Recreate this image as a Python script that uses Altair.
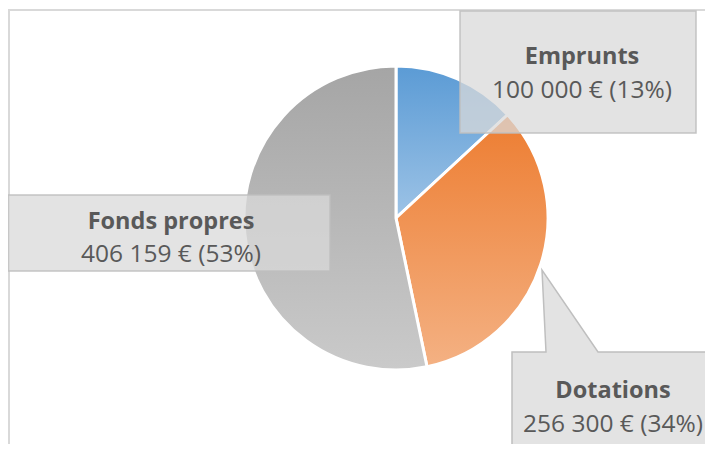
import altair as alt
import pandas as pd

# ---- data ----
categories = ["Emprunts", "Dotations", "Fonds propres"]
values = [100000, 256300, 406159]
order_idx = [0, 1, 2]

total = sum(values)
def fmt(v):
    return f"{v:,}".replace(",", " ") + " €"
value_labels = [f"{fmt(v)} ({round(100 * v / total)}%)" for v in values]

# ---- layout (pixels, view coordinates) ----
W, H = 697, 436
pie_cx, pie_cy, pie_r = 388, 210, 152
text_cx = [574, 605, 163]
name_base = [56, 390, 221]
val_base = [90, 424, 254]

# gradient fills (top dark -> bottom light), like the reference
g_blue = {"gradient": "linear", "x1": 0, "y1": 0, "x2": 0, "y2": 1,
          "stops": [{"offset": 0, "color": "#5B9BD5"}, {"offset": 1, "color": "#9DC3E6"}]}
g_orange = {"gradient": "linear", "x1": 0, "y1": 0, "x2": 0, "y2": 1,
            "stops": [{"offset": 0, "color": "#ED7D31"}, {"offset": 1, "color": "#F4B183"}]}
g_gray = {"gradient": "linear", "x1": 0, "y1": 0, "x2": 0, "y2": 1,
          "stops": [{"offset": 0, "color": "#A5A5A5"}, {"offset": 1, "color": "#CACACA"}]}

xs = alt.Scale(domain=[0, W], range=[0, W], nice=False, zero=False)
ys = alt.Scale(domain=[0, H], range=[0, H], nice=False, zero=False)

pie_df = pd.DataFrame({"cat": categories, "value": values, "idx": order_idx})

pie = alt.Chart(pie_df).mark_arc(radius=pie_r, stroke="white", strokeWidth=3).encode(
    theta=alt.Theta("value:Q", stack=True),
    order=alt.Order("idx:Q"),
    x=alt.value(pie_cx),
    y=alt.value(pie_cy),
    fill=alt.when(alt.datum.cat == "Emprunts").then(alt.value(g_blue))
    .when(alt.datum.cat == "Dotations").then(alt.value(g_orange))
    .otherwise(alt.value(g_gray)),
)

# callout boxes
box_df = pd.DataFrame({
    "cat": ["Emprunts", "Fonds propres", "Dotations"],
    "x": [452, 0, 504], "x2": [688, 322, W],
    "y": [3, 187, 344], "y2": [125, 263, H],
    "stroked": [1, 1, 0],
})
box_fill = alt.Chart(box_df).mark_rect(color="#D9D9D9", opacity=0.75).encode(
    x=alt.X("x:Q", scale=xs, axis=None), x2="x2:Q",
    y=alt.Y("y:Q", scale=ys, axis=None), y2="y2:Q",
)
box_stroke = alt.Chart(box_df[box_df.stroked == 1]).mark_rect(
    fill=None, stroke="#BFBFBF", strokeWidth=1.5, opacity=0.9
).encode(
    x=alt.X("x:Q", scale=xs, axis=None), x2="x2:Q",
    y=alt.Y("y:Q", scale=ys, axis=None), y2="y2:Q",
)

# Dotations pointer
tri_df = pd.DataFrame({"y": [262, 344], "x": [534, 538], "x2": [534, 590]})
tri = alt.Chart(tri_df).mark_area(color="#D9D9D9", opacity=0.75, orient="horizontal").encode(
    y=alt.Y("y:Q", scale=ys, axis=None),
    x=alt.X("x:Q", scale=xs, axis=None), x2="x2:Q",
)
outline_df = pd.DataFrame({
    "i": [0, 1, 2, 3, 4, 5],
    "x": [504, 504, 538, 534, 590, W],
    "y": [H, 344, 344, 262, 344, 344],
})
outline = alt.Chart(outline_df).mark_line(color="#BFBFBF", strokeWidth=1.5).encode(
    x=alt.X("x:Q", scale=xs, axis=None),
    y=alt.Y("y:Q", scale=ys, axis=None),
    order=alt.Order("i:Q"),
)

# labels
lab_df = pd.DataFrame({
    "cat": categories, "val": value_labels,
    "cx": text_cx, "yn": name_base, "yv": val_base,
})
name_text = alt.Chart(lab_df).mark_text(
    font="Open Sans", fontSize=23.5, fontWeight="bold", color="#595959",
    align="center", baseline="alphabetic",
).encode(
    x=alt.X("cx:Q", scale=xs, axis=None),
    y=alt.Y("yn:Q", scale=ys, axis=None),
    text="cat:N",
)
val_text = alt.Chart(lab_df).mark_text(
    font="Open Sans", fontSize=24.5, color="#595959",
    align="center", baseline="alphabetic",
).encode(
    x=alt.X("cx:Q", scale=xs, axis=None),
    y=alt.Y("yv:Q", scale=ys, axis=None),
    text="val:N",
)

# chart area border (top and left visible)
border_df = pd.DataFrame({"x": [0, 1], "x2": [W, 1], "y": [2, 2], "y2": [2, H]})
border = alt.Chart(border_df).mark_rule(color="#D9D9D9", strokeWidth=2).encode(
    x=alt.X("x:Q", scale=xs, axis=None), x2="x2:Q",
    y=alt.Y("y:Q", scale=ys, axis=None), y2="y2:Q",
)

chart = alt.layer(
    border, pie, box_fill, tri, box_stroke, outline, name_text, val_text
).properties(
    width=W, height=H, padding=0,
    autosize=alt.AutoSizeParams(type="none"),
).configure_view(stroke=None)

chart.save("out.html", embed_options={"renderer": "svg", "actions": False})
